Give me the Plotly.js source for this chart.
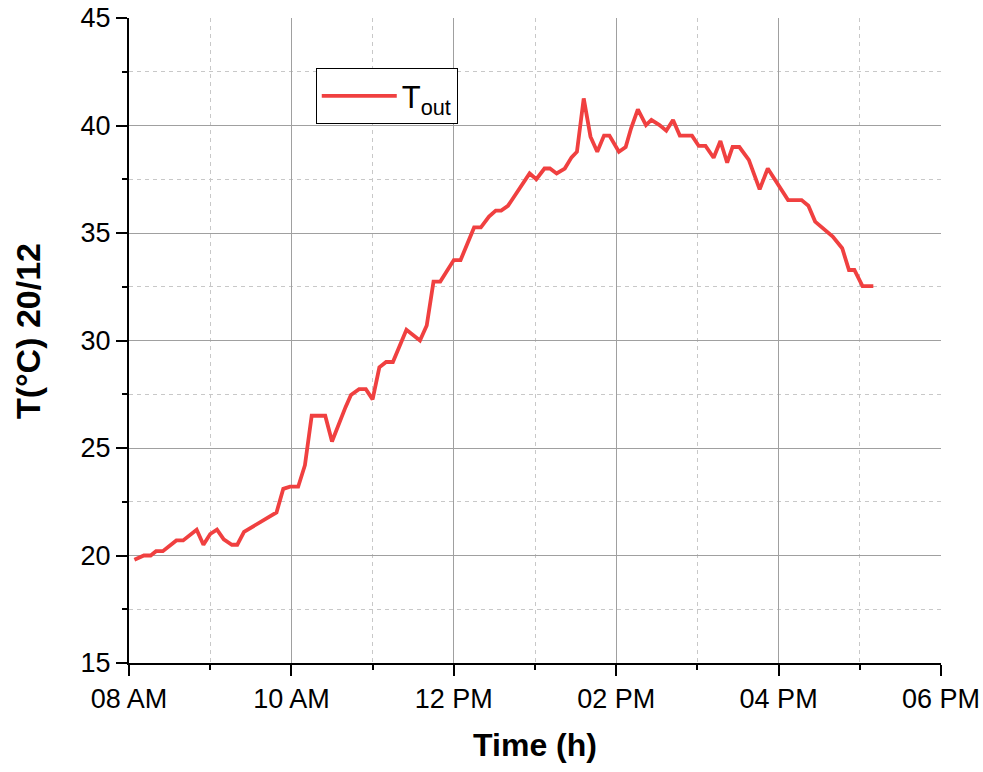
<!DOCTYPE html>
<html>
<head>
<meta charset="utf-8">
<script src="https://cdn.plot.ly/plotly-3.0.1.min.js"></script>
<style>html,body{margin:0;padding:0;background:#fff;}#chart{width:983px;height:772px;}</style>
</head>
<body>
<div id="chart"></div>
<script>
const day = '2024-12-20';
const times = ['08:04','08:11','08:16','08:20','08:25','08:35','08:40','08:50','08:55','09:00',
  '09:05','09:10','09:16','09:20','09:25','09:49','09:54','09:59','10:05','10:10',
  '10:15','10:25','10:30','10:35','10:40','10:44','10:50','10:55','11:00','11:05',
  '11:10','11:15','11:25','11:35','11:40','11:45','11:50','12:00','12:05','12:15',
  '12:20','12:26','12:31','12:35','12:40','12:56','13:01','13:07','13:11','13:16',
  '13:22','13:27','13:31','13:36','13:41','13:46','13:51','13:55','14:02','14:07',
  '14:11','14:16','14:22','14:26','14:32','14:37','14:42','14:47','14:56','15:01',
  '15:06','15:12','15:17','15:22','15:26','15:31','15:38','15:46','15:52','16:07',
  '16:17','16:22','16:27','16:40','16:47','16:52','16:56','17:02','17:10'];
const tout = [19.8,20.0,20.0,20.2,20.2,20.7,20.7,21.2,20.5,21.0,
  21.2,20.75,20.5,20.5,21.1,22.0,23.1,23.2,23.2,24.2,
  26.5,26.5,25.3,26.15,26.9,27.47,27.74,27.74,27.26,28.75,
  29.0,29.0,30.5,30.0,30.7,32.74,32.74,33.74,33.74,35.26,
  35.26,35.76,36.04,36.04,36.26,37.77,37.5,38.0,38.0,37.77,
  38.0,38.52,38.78,41.26,39.48,38.78,39.53,39.53,38.78,39.0,
  39.87,40.75,40.02,40.26,40.02,39.76,40.26,39.53,39.53,39.05,
  39.05,38.5,39.28,38.27,39.0,39.0,38.4,37.03,38.0,36.53,
  36.53,36.27,35.53,34.83,34.29,33.28,33.28,32.53,32.53];

const xs = times.map(t => day + ' ' + t);
const font = 'Arial, "Liberation Sans", sans-serif';

const trace = {
  x: xs, y: tout, type: 'scatter', mode: 'lines', name: 'T<sub>out</sub>',
  line: {color: 'rgb(240,64,64)', width: 3.8}, hoverinfo: 'skip'
};

const layout = {
  width: 983, height: 772,
  margin: {l: 129, r: 42, t: 18, b: 109},
  paper_bgcolor: '#fff', plot_bgcolor: '#fff',
  font: {family: font, color: '#000', size: 27},
  showlegend: true,
  legend: {x: 0.23, y: 0.922, xanchor: 'left', yanchor: 'top',
    bgcolor: '#fff', bordercolor: '#000', borderwidth: 1,
    font: {family: font, size: 31, color: '#000'}, itemwidth: 75},
  xaxis: {
    type: 'date',
    range: [day + ' 08:00', day + ' 18:00'],
    dtick: 7200000, tick0: day + ' 08:00', tickformat: '%I %p',
    ticks: 'outside', ticklen: 11, tickwidth: 2, tickcolor: '#000',
    showline: true, linecolor: '#000', linewidth: 2,
    showgrid: true, gridcolor: 'rgb(160,160,160)', gridwidth: 1,
    zeroline: false,
    tickfont: {family: font, size: 27, color: '#000'},
    minor: {dtick: 3600000, tick0: day + ' 08:00', ticks: 'outside', ticklen: 5, tickwidth: 2, tickcolor: '#000',
      showgrid: true, gridcolor: 'rgb(200,200,200)', griddash: '4px,4px', gridwidth: 1},
    title: {text: '<b>Time (h)</b>', font: {family: font, size: 32, color: '#000'}, standoff: 20}
  },
  yaxis: {
    range: [15, 45], dtick: 5, tick0: 15,
    ticks: 'outside', ticklen: 11, tickwidth: 2, tickcolor: '#000',
    showline: true, linecolor: '#000', linewidth: 2,
    showgrid: true, gridcolor: 'rgb(160,160,160)', gridwidth: 1,
    zeroline: false,
    tickfont: {family: font, size: 27, color: '#000'},
    minor: {dtick: 2.5, ticks: 'outside', ticklen: 5, tickwidth: 2, tickcolor: '#000',
      showgrid: true, gridcolor: 'rgb(200,200,200)', griddash: '4px,4px', gridwidth: 1},
    title: {text: '<b>&nbsp;&nbsp;T(°C) 20/12</b>', font: {family: font, size: 34, color: '#000'}, standoff: 30}
  }
};

Plotly.newPlot('chart', [trace], layout, {displayModeBar: false, staticPlot: true});
</script>
</body>
</html>
